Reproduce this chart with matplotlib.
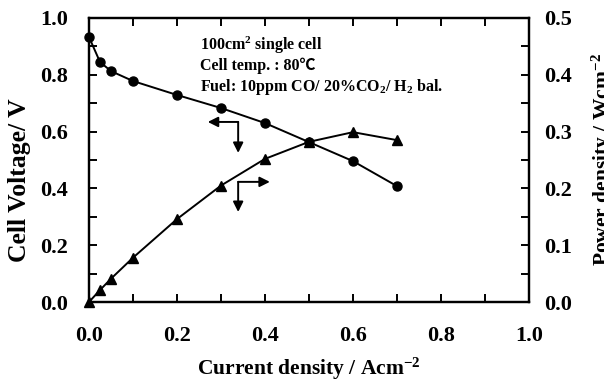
"""
Cell voltage and power density vs current density (dual y axis).
"""

import matplotlib.pyplot as plt
from matplotlib.ticker import MultipleLocator

plt.rcParams["font.family"] = ["Liberation Serif", "DejaVu Serif"]
plt.rcParams["font.weight"] = "bold"
plt.rcParams["mathtext.fontset"] = "custom"
plt.rcParams["mathtext.rm"] = "Liberation Serif:bold"
plt.rcParams["mathtext.bf"] = "Liberation Serif:bold"
plt.rcParams["mathtext.default"] = "rm"

# data
current = [0.0, 0.025, 0.05, 0.1, 0.2, 0.3, 0.4, 0.5, 0.6, 0.7]
voltage = [0.933, 0.845, 0.813, 0.778, 0.729, 0.683, 0.630, 0.563, 0.496, 0.408]
power = [0.0, 0.021, 0.041, 0.078, 0.146, 0.205, 0.252, 0.282, 0.299, 0.285]

notes = [
    r"100cm$^{2}$ single cell",
    "Cell temp. : 80\u2103",
    r"Fuel: 10ppm CO/ 20%CO$_{2}$/ H$_{2}$ bal.",
]

fig = plt.figure(figsize=(6.04, 3.81), dpi=100)
ax = fig.add_axes([89 / 604, 79 / 381, 440 / 604, 284 / 381])
ax2 = ax.twinx()

ax.plot(current, voltage, color="k", lw=1.4, marker="o", ms=6.5, clip_on=False, zorder=5)
ax2.plot(current, power, color="k", lw=1.4, marker="^", ms=7.5, clip_on=False, zorder=5)

ax.xaxis.set_major_locator(MultipleLocator(0.2))
ax.xaxis.set_minor_locator(MultipleLocator(0.1))
ax.yaxis.set_major_locator(MultipleLocator(0.2))
ax.yaxis.set_minor_locator(MultipleLocator(0.1))
ax2.yaxis.set_major_locator(MultipleLocator(0.1))
ax2.yaxis.set_minor_locator(MultipleLocator(0.05))

ax.tick_params(which="both", direction="in", top=True, width=1.4, length=6, labelsize=16)
ax.tick_params(axis="y", pad=15)
ax.tick_params(axis="x", pad=17)
ax2.tick_params(which="both", direction="in", width=1.4, length=6, labelsize=16, pad=11)
for a in (ax, ax2):
    for s in a.spines.values():
        s.set_linewidth(1.6)

ax.set_xlim(0, 1.0)
ax.set_ylim(0, 1.0)
ax2.set_ylim(0, 0.5)
ax.set_xticks(ax.get_xticks(), [f"{v:.1f}" for v in ax.get_xticks()])
ax.set_yticks(ax.get_yticks(), [f"{v:.1f}" for v in ax.get_yticks()])
ax2.set_yticks(ax2.get_yticks(), [f"{v:.1f}" for v in ax2.get_yticks()])
ax.set_xlim(0, 1.0)
ax.set_ylim(0, 1.0)
ax2.set_ylim(0, 0.5)

ax.set_xlabel(r"Current density / Acm$^{-2}$", fontsize=15.5, fontweight="bold")
ax.xaxis.set_label_coords(0.5, -0.19)
fig.text(20 / 604, 0.528, "Cell Voltage/ V", rotation=90, fontsize=18.5,
         ha="center", va="center")
fig.text(590 / 604, 0.58, r"Power density / Wcm$^{-2}$", rotation=90, fontsize=15.5,
         ha="left", va="center")

for i, t in enumerate(notes):
    ax.text(0.252, 0.905 - 0.074 * i, t, fontsize=11.5, va="center",
            family=["Liberation Serif", "Noto Sans CJK JP"])

arrow = dict(arrowstyle="-|>", color="k", lw=1.4, mutation_scale=15, shrinkA=0, shrinkB=0)
ax.annotate("", xy=(0.270, 0.634), xytext=(0.339, 0.634), arrowprops=arrow)
ax.annotate("", xy=(0.339, 0.525), xytext=(0.339, 0.634), arrowprops=arrow)
ax.annotate("", xy=(0.411, 0.423), xytext=(0.339, 0.423), arrowprops=arrow)
ax.annotate("", xy=(0.339, 0.317), xytext=(0.339, 0.423), arrowprops=arrow)

fig.savefig("out.png", dpi=100)
